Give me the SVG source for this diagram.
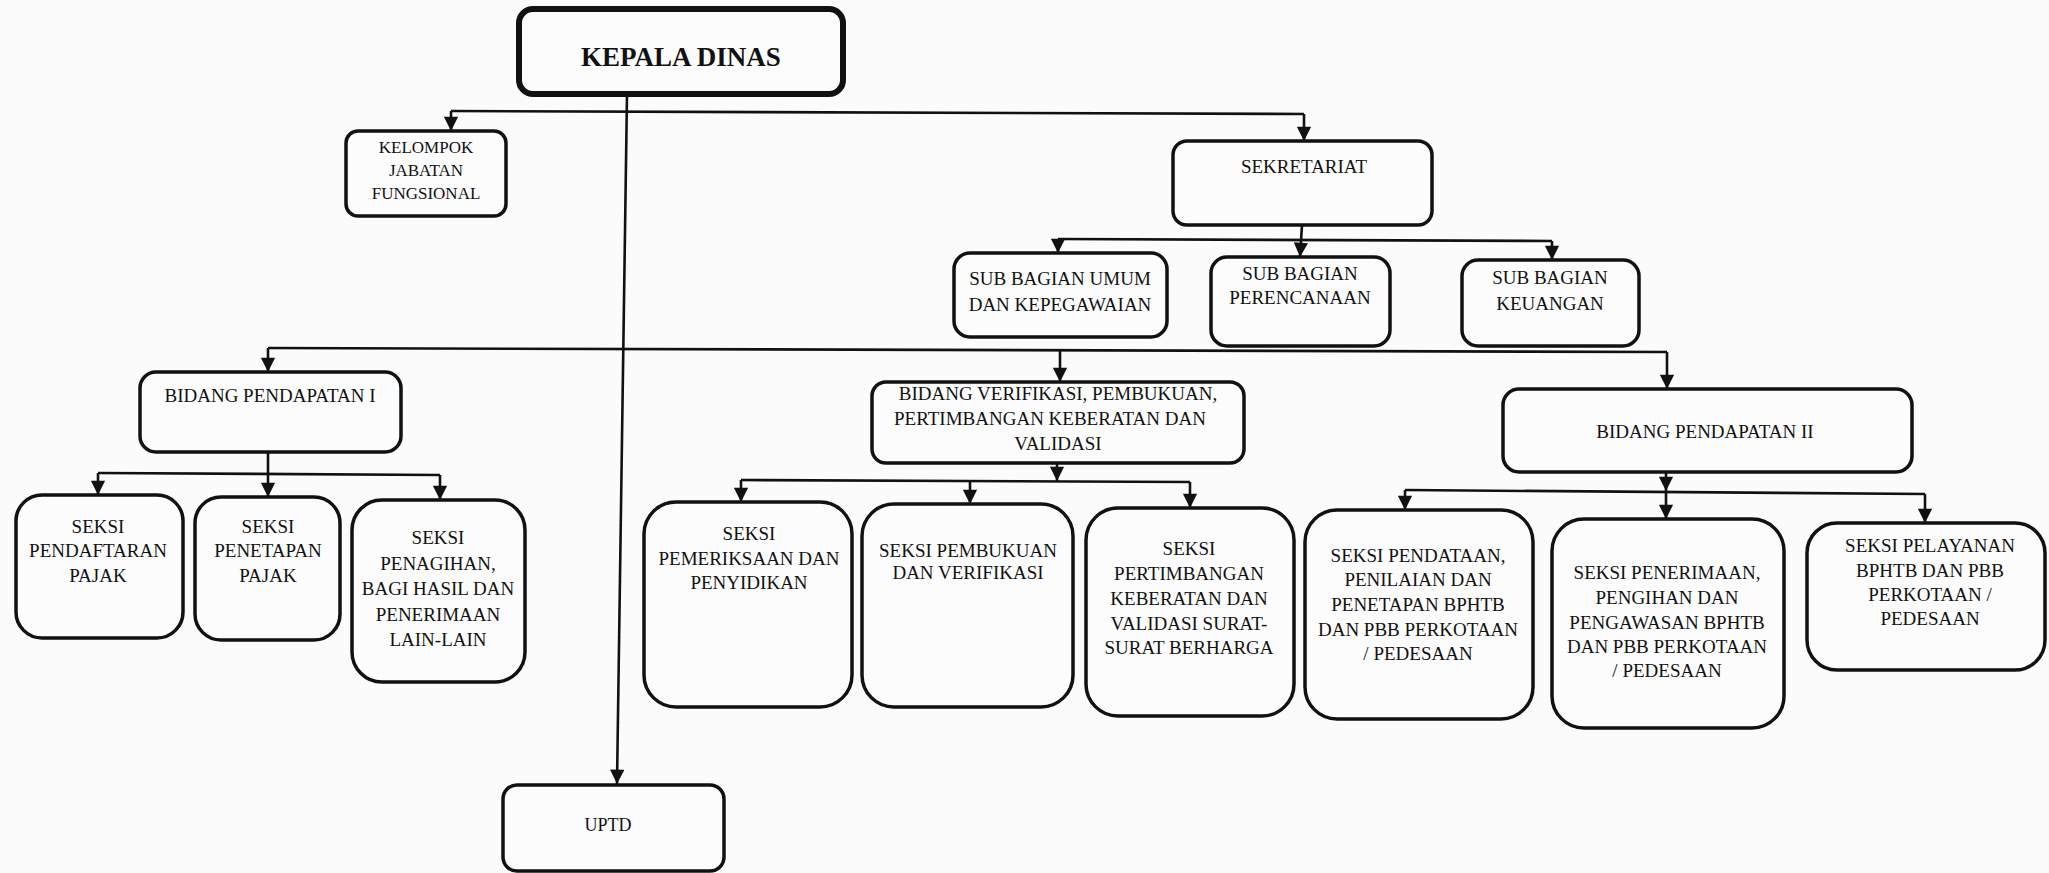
<svg xmlns="http://www.w3.org/2000/svg" width="2049" height="873" viewBox="0 0 2049 873">
<style>
.box{fill:#fcfcfc;stroke:#111;stroke-width:3.5}
.t{font-family:"Liberation Serif",serif;font-size:19px;fill:#111;text-anchor:middle}
.c{fill:none;stroke:#111;stroke-width:2.6}
</style>
<defs>
<marker id="ah" viewBox="0 0 10 10" refX="10" refY="5" markerWidth="6" markerHeight="5.5" orient="auto" markerUnits="strokeWidth">
<path d="M0,0 L10,5 L0,10 z" fill="#111"/>
</marker>
</defs>
<rect width="2049" height="873" fill="#fbfbfb"/>
<g id="connectors">
<path class="c" d="M627,94 L617,784" marker-end="url(#ah)"/>
<path class="c" d="M451,111 L1304,114"/>
<path class="c" d="M451,111 L451,131" marker-end="url(#ah)"/>
<path class="c" d="M1304,114 L1304,141" marker-end="url(#ah)"/>
<path class="c" d="M1058,239 L1552,241"/>
<path class="c" d="M1302,225 L1300,257" marker-end="url(#ah)"/>
<path class="c" d="M1058,239 L1058,253" marker-end="url(#ah)"/>
<path class="c" d="M1552,241 L1552,260" marker-end="url(#ah)"/>
<path class="c" d="M268,348 L1667,352"/>
<path class="c" d="M268,348 L268,372" marker-end="url(#ah)"/>
<path class="c" d="M1060,350 L1060,382" marker-end="url(#ah)"/>
<path class="c" d="M1667,352 L1667,389" marker-end="url(#ah)"/>
<path class="c" d="M98,473 L440,475"/>
<path class="c" d="M268,452 L268,497" marker-end="url(#ah)"/>
<path class="c" d="M98,473 L98,495" marker-end="url(#ah)"/>
<path class="c" d="M440,475 L440,500" marker-end="url(#ah)"/>
<path class="c" d="M1057,463 L1057,481" marker-end="url(#ah)"/>
<path class="c" d="M741,480 L1190,482"/>
<path class="c" d="M741,480 L741,502" marker-end="url(#ah)"/>
<path class="c" d="M970,481 L970,504" marker-end="url(#ah)"/>
<path class="c" d="M1190,482 L1190,508" marker-end="url(#ah)"/>
<path class="c" d="M1666,472 L1666,491" marker-end="url(#ah)"/>
<path class="c" d="M1666,491 L1666,519" marker-end="url(#ah)"/>
<path class="c" d="M1405,490 L1925,494"/>
<path class="c" d="M1405,490 L1405,510" marker-end="url(#ah)"/>
<path class="c" d="M1925,494 L1925,523" marker-end="url(#ah)"/>
</g>
<g id="kepala-dinas">
<rect class="box" x="519" y="9" width="324" height="85" rx="14" style="stroke-width:6"/>
<text class="t" x="681" y="66" style="font-size:27px;font-weight:bold">KEPALA DINAS</text>
</g>
<g id="kelompok-jabatan-fungsional">
<rect class="box" x="346" y="131" width="160" height="85" rx="12"/>
<text class="t" x="426" y="153" style="font-size:17px">KELOMPOK</text>
<text class="t" x="426" y="176" style="font-size:17px">JABATAN</text>
<text class="t" x="426" y="199" style="font-size:17px">FUNGSIONAL</text>
</g>
<g id="sekretariat">
<rect class="box" x="1173" y="141" width="259" height="84" rx="14"/>
<text class="t" x="1304" y="173">SEKRETARIAT</text>
</g>
<g id="sub-bagian-umum">
<rect class="box" x="954" y="253" width="213" height="84" rx="16"/>
<text class="t" x="1060" y="285">SUB BAGIAN UMUM</text>
<text class="t" x="1060" y="311">DAN KEPEGAWAIAN</text>
</g>
<g id="sub-bagian-perencanaan">
<rect class="box" x="1211" y="257" width="179" height="89" rx="16"/>
<text class="t" x="1300" y="280">SUB BAGIAN</text>
<text class="t" x="1300" y="304">PERENCANAAN</text>
</g>
<g id="sub-bagian-keuangan">
<rect class="box" x="1462" y="260" width="177" height="86" rx="16"/>
<text class="t" x="1550" y="284">SUB BAGIAN</text>
<text class="t" x="1550" y="310">KEUANGAN</text>
</g>
<g id="bidang-pendapatan-1">
<rect class="box" x="140" y="372" width="261" height="80" rx="16"/>
<text class="t" x="270" y="402">BIDANG PENDAPATAN I</text>
</g>
<g id="bidang-verifikasi">
<rect class="box" x="872" y="382" width="372" height="81" rx="14"/>
<text class="t" x="1058" y="400">BIDANG VERIFIKASI, PEMBUKUAN,</text>
<text class="t" x="1050" y="425">PERTIMBANGAN KEBERATAN DAN</text>
<text class="t" x="1058" y="450">VALIDASI</text>
</g>
<g id="bidang-pendapatan-2">
<rect class="box" x="1503" y="389" width="409" height="83" rx="16"/>
<text class="t" x="1705" y="438">BIDANG PENDAPATAN II</text>
</g>
<g id="seksi-pendaftaran">
<rect class="box" x="16" y="495" width="167" height="143" rx="26"/>
<text class="t" x="98" y="533">SEKSI</text>
<text class="t" x="98" y="557">PENDAFTARAN</text>
<text class="t" x="98" y="582">PAJAK</text>
</g>
<g id="seksi-penetapan">
<rect class="box" x="195" y="497" width="145" height="143" rx="26"/>
<text class="t" x="268" y="533">SEKSI</text>
<text class="t" x="268" y="557">PENETAPAN</text>
<text class="t" x="268" y="582">PAJAK</text>
</g>
<g id="seksi-penagihan">
<rect class="box" x="352" y="500" width="173" height="182" rx="30"/>
<text class="t" x="438" y="544">SEKSI</text>
<text class="t" x="438" y="570">PENAGIHAN,</text>
<text class="t" x="438" y="595">BAGI HASIL DAN</text>
<text class="t" x="438" y="621">PENERIMAAN</text>
<text class="t" x="438" y="646">LAIN-LAIN</text>
</g>
<g id="seksi-pemeriksaan">
<rect class="box" x="644" y="502" width="208" height="205" rx="32"/>
<text class="t" x="749" y="540">SEKSI</text>
<text class="t" x="749" y="565">PEMERIKSAAN DAN</text>
<text class="t" x="749" y="589">PENYIDIKAN</text>
</g>
<g id="seksi-pembukuan">
<rect class="box" x="862" y="504" width="211" height="203" rx="32"/>
<text class="t" x="968" y="557">SEKSI PEMBUKUAN</text>
<text class="t" x="968" y="579">DAN VERIFIKASI</text>
</g>
<g id="seksi-pertimbangan">
<rect class="box" x="1086" y="508" width="208" height="208" rx="32"/>
<text class="t" x="1189" y="555">SEKSI</text>
<text class="t" x="1189" y="580">PERTIMBANGAN</text>
<text class="t" x="1189" y="605">KEBERATAN DAN</text>
<text class="t" x="1189" y="630">VALIDASI SURAT-</text>
<text class="t" x="1189" y="654">SURAT BERHARGA</text>
</g>
<g id="seksi-pendataan">
<rect class="box" x="1305" y="510" width="228" height="209" rx="32"/>
<text class="t" x="1418" y="562">SEKSI PENDATAAN,</text>
<text class="t" x="1418" y="586">PENILAIAN DAN</text>
<text class="t" x="1418" y="611">PENETAPAN BPHTB</text>
<text class="t" x="1418" y="636">DAN PBB PERKOTAAN</text>
<text class="t" x="1418" y="660">/ PEDESAAN</text>
</g>
<g id="seksi-penerimaan">
<rect class="box" x="1552" y="519" width="232" height="209" rx="32"/>
<text class="t" x="1667" y="579">SEKSI PENERIMAAN,</text>
<text class="t" x="1667" y="604">PENGIHAN DAN</text>
<text class="t" x="1667" y="629">PENGAWASAN BPHTB</text>
<text class="t" x="1667" y="653">DAN PBB PERKOTAAN</text>
<text class="t" x="1667" y="677">/ PEDESAAN</text>
</g>
<g id="seksi-pelayanan">
<rect class="box" x="1807" y="523" width="238" height="147" rx="30"/>
<text class="t" x="1930" y="552">SEKSI PELAYANAN</text>
<text class="t" x="1930" y="577">BPHTB DAN PBB</text>
<text class="t" x="1930" y="601">PERKOTAAN /</text>
<text class="t" x="1930" y="625">PEDESAAN</text>
</g>
<g id="uptd">
<rect class="box" x="503" y="785" width="221" height="86" rx="14"/>
<text class="t" x="608" y="831" style="font-size:18px">UPTD</text>
</g>
</svg>
